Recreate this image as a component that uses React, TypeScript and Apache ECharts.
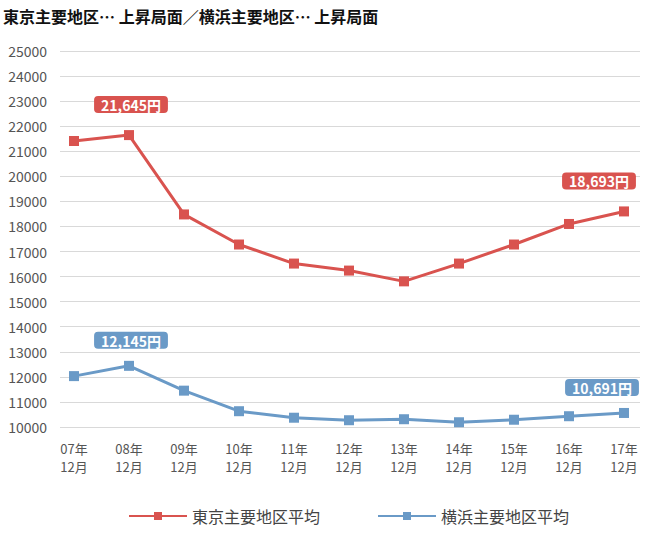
import React, { useEffect, useRef } from "react";
import * as echarts from "echarts";

const categories = ["07年\n12月", "08年\n12月", "09年\n12月", "10年\n12月", "11年\n12月", "12年\n12月", "13年\n12月", "14年\n12月", "15年\n12月", "16年\n12月", "17年\n12月"];
const tokyoValues = [21410, 21645, 18480, 17280, 16520, 16240, 15810, 16520, 17280, 18100, 18600];
const yokohamaValues = [12030, 12440, 11450, 10630, 10370, 10270, 10310, 10190, 10290, 10430, 10560];
const tokyoLabels = ["", "21,645円", "", "", "", "", "", "", "", "", "18,693円"];
const yokohamaLabels = ["", "12,145円", "", "", "", "", "", "", "", "", "10,691円"];
const seriesNames = ["東京主要地区平均", "横浜主要地区平均"];
const titleText = "東京主要地区… 上昇局面／横浜主要地区… 上昇局面";

const RED = "#d9534f";
const BLUE = "#6a9ac7";
const FONT = '"Noto Sans CJK JP", "Noto Sans", sans-serif';

function makeData(values: number[], labels: string[], color: string, dist: number, lastShift: number) {
  return values.map((v, i) =>
    labels[i]
      ? {
          value: v,
          label: {
            show: true,
            position: "top",
            distance: dist,
            offset: [i === values.length - 1 ? lastShift : 2, 0],
            formatter: () => labels[i],
            color: "#fff",
            fontWeight: "bold",
            fontSize: 14,
            fontFamily: FONT,
            backgroundColor: color,
            borderRadius: 4,
            padding: [2, 7, 1, 7],
          },
        }
      : v
  );
}

export default function App() {
  const ref = useRef<HTMLDivElement>(null);
  useEffect(() => {
    document.body.style.margin = "0";
    const chart = echarts.init(ref.current!, undefined, { renderer: "svg" });
    chart.setOption({
      animation: false,
      backgroundColor: "#fff",
      title: {
        text: titleText,
        left: -2,
        top: 3,
        textStyle: { fontSize: 16, fontWeight: "bold", color: "#111", fontFamily: FONT },
      },
      legend: {
        top: 503,
        left: 123,
        itemWidth: 58,
        itemHeight: 10,
        itemGap: 57,
        textStyle: { fontSize: 16, color: "#444", fontFamily: FONT },
        data: seriesNames,
      },
      grid: [
        { left: 74, right: 31, top: 51, bottom: 113 },
        { left: 60, right: 15, top: 51, bottom: 113 },
      ],
      xAxis: [
        {
          type: "category",
          gridIndex: 0,
          data: categories,
          boundaryGap: false,
          axisLine: { show: false },
          axisTick: { show: false },
          axisLabel: { color: "#555", fontSize: 13, lineHeight: 18, margin: 12, fontFamily: FONT },
        },
        { type: "category", gridIndex: 1, data: categories, show: false },
      ],
      yAxis: [
        { type: "value", gridIndex: 0, min: 10000, max: 25000, interval: 1000, show: false, splitLine: { show: false } },
        {
          type: "value",
          gridIndex: 1,
          min: 10000,
          max: 25000,
          interval: 1000,
          axisLine: { show: false },
          axisTick: { show: false },
          axisLabel: { color: "#555", fontSize: 14, margin: 13, fontFamily: FONT, formatter: (v: number) => String(v) },
          splitLine: { lineStyle: { color: "#d9d9d9", width: 1 } },
        },
      ],
      series: [
        {
          name: seriesNames[0],
          type: "line",
          xAxisIndex: 0,
          yAxisIndex: 0,
          data: makeData(tokyoValues, tokyoLabels, RED, 17, -25),
          symbol: "rect",
          symbolSize: 10,
          lineStyle: { color: RED, width: 3 },
          itemStyle: { color: RED },
          z: 3,
        },
        {
          name: seriesNames[1],
          type: "line",
          xAxisIndex: 0,
          yAxisIndex: 0,
          data: makeData(yokohamaValues, yokohamaLabels, BLUE, 12, -22),
          symbol: "rect",
          symbolSize: 10,
          lineStyle: { color: BLUE, width: 3 },
          itemStyle: { color: BLUE },
          z: 3,
        },
      ],
    });
    return () => chart.dispose();
  }, []);
  return <div ref={ref} style={{ width: 655, height: 540 }} />;
}
